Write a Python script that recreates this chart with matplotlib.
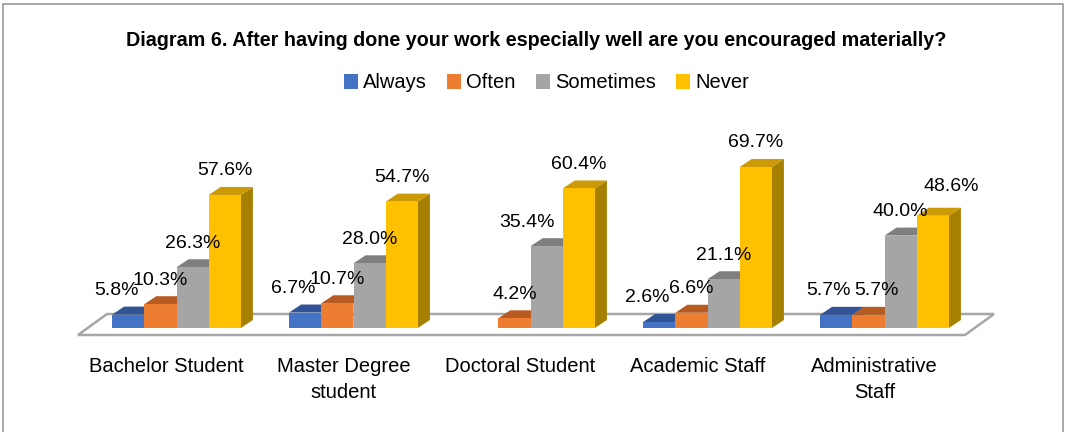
import matplotlib
matplotlib.use("Agg")
import matplotlib.pyplot as plt
from matplotlib.patches import Polygon, Rectangle
import numpy as np

# ---- data -------------------------------------------------------------
categories = ["Bachelor Student", "Master Degree\nstudent", "Doctoral Student",
              "Academic Staff", "Administrative\nStaff"]
series_names = ["Always", "Often", "Sometimes", "Never"]
always = [5.8, 6.7, np.nan, 2.6, 5.7]
often = [10.3, 10.7, 4.2, 6.6, 5.7]
sometimes = [26.3, 28.0, 35.4, 21.1, 40.0]
never = [57.6, 54.7, 60.4, 69.7, 48.6]
title = "Diagram 6. After having done your work especially well are you encouraged materially?"

series_values = [always, often, sometimes, never]

# ---- styling ----------------------------------------------------------
front_colors = ["#4472C4", "#ED7D31", "#A5A5A5", "#FFC000"]
top_colors = ["#305496", "#B85B22", "#7F7F7F", "#CC9A06"]
side_colors = ["#2F528F", "#AE5A21", "#787878", "#A68000"]
font = "Liberation Sans"

W, H, DPI = 1065, 432, 100
fig = plt.figure(figsize=(W / DPI, H / DPI), dpi=DPI)
fig.patch.set_facecolor("white")

# plot area laid out in pixels, data scales derived from it
ax_left_px, ax_right_px = 60, 1010
ax_top_px, ax_bot_px = 110, 345
px_per_x = 177.0     # pixels per category step
px_per_y = 2.31      # pixels per percentage point
x0_px, y0_px = 176.5, 328.0
ax = fig.add_axes([ax_left_px / W, 1 - ax_bot_px / H,
                   (ax_right_px - ax_left_px) / W, (ax_bot_px - ax_top_px) / H])
ax.set_xlim((ax_left_px - x0_px) / px_per_x, (ax_right_px - x0_px) / px_per_x)
ax.set_ylim((y0_px - ax_bot_px) / px_per_y, (y0_px - ax_top_px) / px_per_y)
ax.axis("off")

n_cat = len(categories)
n_ser = len(series_names)
bar_w = 32.2 / px_per_x
depth_x = 12 / px_per_x
depth_y = 8 / px_per_y

# floor of the 3-D plot
floor_front_y = -7 / px_per_y
floor_dx, floor_dy = 29 / px_per_x, 21 / px_per_y
fl = (78 - x0_px) / px_per_x
fr = fl + n_cat * (887 / 5) / px_per_x
floor = Polygon([(fl, floor_front_y), (fr, floor_front_y),
                 (fr + floor_dx, floor_front_y + floor_dy),
                 (fl + floor_dx, floor_front_y + floor_dy)],
                closed=True, facecolor="white", edgecolor="#A6A6A6", lw=1.8, zorder=1)
ax.add_patch(floor)

# label nudges (pixels) for crowded labels
nudges = {(0, 0): -12, (1, 0): -12, (3, 0): -12, (4, 0): -8,
          (4, 1): 8, (2, 2): -20, (4, 3): 18}
lift = {(4, 3): 5}

x = np.arange(n_cat)
for s in range(n_ser):
    vals = np.array(series_values[s], dtype=float)
    lefts = x - 2 * bar_w + s * bar_w
    heights = np.nan_to_num(vals)
    ax.bar(lefts, heights, width=bar_w, align="edge", color=front_colors[s],
           linewidth=0, zorder=3 + s)
    for i in range(n_cat):
        v = vals[i]
        if np.isnan(v):
            continue
        l, r = lefts[i], lefts[i] + bar_w
        top = Polygon([(l, v), (r, v), (r + depth_x, v + depth_y), (l + depth_x, v + depth_y)],
                      closed=True, facecolor=top_colors[s], lw=0, zorder=2.9 + s)
        side = Polygon([(r, 0), (r + depth_x, depth_y), (r + depth_x, v + depth_y), (r, v)],
                       closed=True, facecolor=side_colors[s], lw=0, zorder=2.9 + s)
        ax.add_patch(side)
        ax.add_patch(top)
        dx_px = nudges.get((i, s), 0)
        dy_px = 24 + lift.get((i, s), 0)
        ax.annotate(f"{v:.1f}%", xy=(l + bar_w / 2, v),
                    xytext=(dx_px * 72 / DPI, dy_px * 72 / DPI), textcoords="offset points",
                    ha="center", va="center", fontsize=14, family=font,
                    color="#000000", zorder=10)

# category labels along the front edge of the floor, one text per line
line_step_px = 26
for i, name in enumerate(categories):
    for k, line in enumerate(name.split("\n")):
        ax.text(i - 10 / px_per_x, (y0_px - 372 - k * line_step_px) / px_per_y, line,
                ha="center", va="baseline", fontsize=14.5, family=font,
                clip_on=False, color="#000000")

fig.text(536.5 / W, 1 - 40 / H, title, ha="center", va="center", fontsize=14.2,
         weight="bold", family=font, color="#000000")

handles = [Rectangle((0, 0), 1, 1, facecolor=c, lw=0) for c in front_colors]
fig.legend(handles, series_names, loc="center", bbox_to_anchor=(546.5 / W, 1 - 83 / H),
           ncol=4, frameon=False, handlelength=0.7, handleheight=0.7, handletextpad=0.25,
           columnspacing=1.0, prop={"family": font, "size": 14.5})

# chart border
fig.patches.append(Rectangle((3 / W, -0.05), 1060 / W, 1 - 4 / H + 0.05,
                             transform=fig.transFigure, fill=False,
                             edgecolor="#999999", lw=1.2))

fig.savefig("out.png", dpi=DPI)
